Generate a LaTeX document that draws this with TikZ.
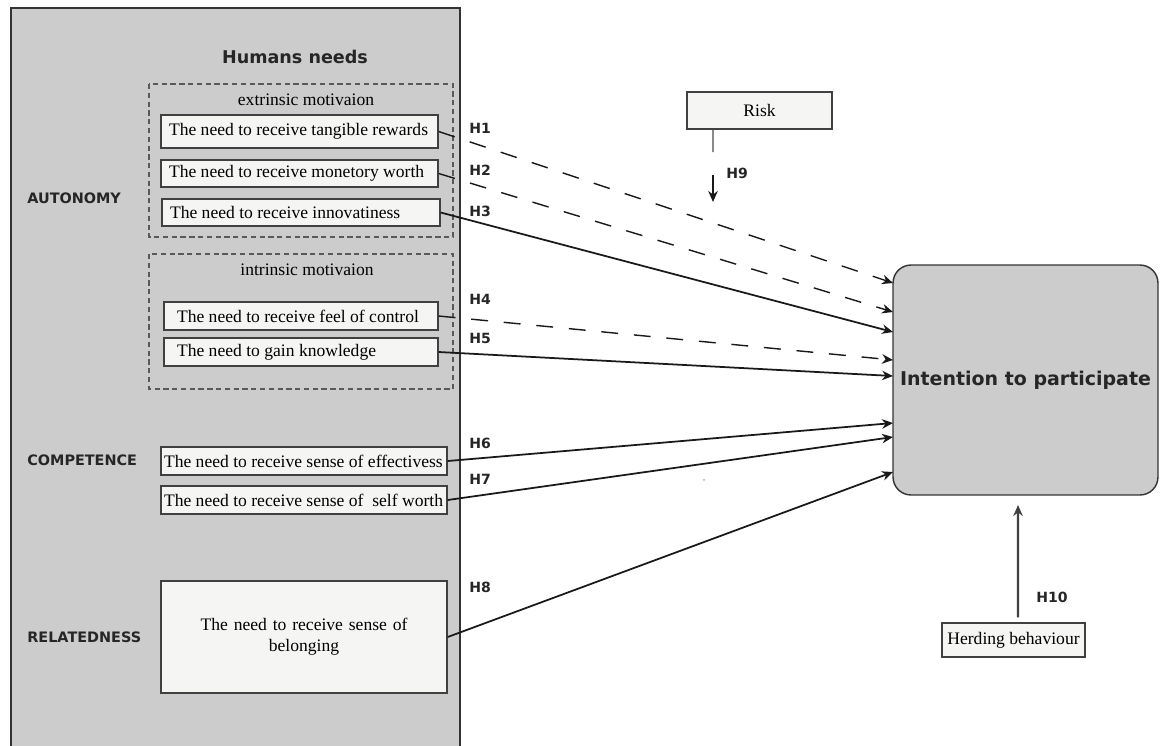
\documentclass[tikz,border=0pt]{standalone}
\usepackage{fontspec}
\setmainfont{Liberation Serif}
\setsansfont{DejaVu Sans}
\usetikzlibrary{arrows.meta}
\definecolor{panelgray}{RGB}{204,204,204}
\definecolor{boxwhite}{RGB}{245,245,243}
\newcommand{\lefttext}[2]{\makebox[#1][l]{#2}}
\tikzset{
  needbox/.style={draw=black!75, fill=boxwhite, line width=0.8pt, inner xsep=0.1cm, inner ysep=0pt, font=\fontsize{10}{12}\selectfont},
  grouplbl/.style={anchor=west, inner sep=0pt, font=\sffamily\bfseries\fontsize{8.2}{10}\selectfont, text=black!85},
  hyplbl/.style={anchor=west, inner sep=0pt, font=\sffamily\bfseries\fontsize{8}{10}\selectfont, text=black!85},
  link/.style={line width=1pt, black!90, -{Stealth[length=2.2mm,width=1.9mm]}},
  dlink/.style={link, line width=0.8pt, dash pattern=on 9.6pt off 9pt},
}
\begin{document}
\begin{tikzpicture}[x=0.02cm, y=-0.02cm]
\useasboundingbox (0,0) rectangle (1165,745);
\clip (0,0) rectangle (1165,745);
\draw[fill=panelgray, draw=black!80, line width=0.8pt] (11,8) rectangle (460,760);
\draw[densely dashed, black!65, line width=0.8pt] (149,84) rectangle (453,237);
\draw[densely dashed, black!65, line width=0.8pt] (149,254) rectangle (453,389);

\node[font=\sffamily\bfseries\fontsize{10}{12}\selectfont, text=black!85] (title) at (295,57) {Humans needs};
\node[font=\fontsize{10}{12}\selectfont] (extr) at (306,100) {extrinsic motivaion};
\node[font=\fontsize{10}{12}\selectfont] (intr) at (307,270) {intrinsic motivaion};
\node[grouplbl] (auto) at (27,198) {AUTONOMY};
\node[grouplbl] (comp) at (27,460) {COMPETENCE};
\node[grouplbl] (rela) at (27,637) {RELATEDNESS};

\node[needbox, inner xsep=0.16cm, minimum height=0.66cm] (tang) at (299.5,131.5) {\lefttext{5.22cm}{The need to receive tangible rewards}};
\node[needbox, inner xsep=0.16cm, minimum height=0.54cm] (mone) at (299.5,173.5) {\lefttext{5.22cm}{The need to receive monetory worth}};
\node[needbox, inner xsep=0.16cm, minimum height=0.54cm] (inno) at (301,212.5) {\lefttext{5.24cm}{The need to receive innovatiness}};
\node[needbox, inner xsep=0.26cm, minimum height=0.56cm] (ctrl) at (301,316) {\lefttext{4.96cm}{The need to receive feel of control}};
\node[needbox, inner xsep=0.26cm, minimum height=0.56cm] (know) at (301,352) {\lefttext{4.96cm}{The need to gain knowledge}};
\node[needbox, inner xsep=0.06cm, minimum height=0.56cm] (effe) at (304,461) {\lefttext{5.60cm}{The need to receive sense of effectivess}};
\node[needbox, inner xsep=0.06cm, minimum height=0.56cm] (self) at (304,500) {\lefttext{5.60cm}{The need to receive sense of\ \ self worth}};
\node[needbox, text width=5.52cm, minimum height=2.24cm, align=center] (belo) at (304,637) {The need to receive sense of\\belonging};

\node[draw=black!75, fill=boxwhite, line width=0.8pt, minimum width=2.9cm, minimum height=0.74cm, inner sep=0pt, font=\fontsize{10}{12}\selectfont] (risk) at (759.5,110.5) {Risk};
\node[draw=black!75, fill=boxwhite, line width=0.8pt, minimum width=2.86cm, minimum height=0.68cm, inner sep=0pt, font=\fontsize{10}{12}\selectfont] (herd) at (1013.5,640) {Herding behaviour};
\node[draw=black!80, fill=panelgray, line width=0.8pt, rounded corners=0.36cm, minimum width=5.3cm, minimum height=4.6cm, inner sep=0pt, font=\sffamily\bfseries\fontsize{10.8}{13}\selectfont, text=black!85] (intent) at (1025.5,380) {Intention to participate};

\coordinate (t1) at (893,283);
\coordinate (t2) at (893,312);
\coordinate (t3) at (893,332);
\coordinate (t4) at (893,360);
\coordinate (t5) at (893,376);
\coordinate (t6) at (893,423);
\coordinate (t7) at (893,437);
\coordinate (t8) at (893,472);
\coordinate (h9top) at (713,152);
\coordinate (h9a) at (713,175);
\coordinate (h9b) at (713,202);
\coordinate (h10tip) at (1018,505);

\draw[dlink] (tang.east) -- (t1);
\draw[dlink] (mone.east) -- (t2);
\draw[link] (inno.east) -- (t3);
\draw[dlink] (ctrl.east) -- (t4);
\draw[link] (know.east) -- (t5);
\draw[link] (effe.east) -- (t6);
\draw[link] (self.east) -- (t7);
\draw[link] (belo.east) -- (t8);
\draw[line width=0.8pt, black!70] ([xshift=-0.93cm]risk.south) -- (h9top);
\draw[link, line width=0.8pt] (h9a) -- (h9b);
\draw[link, black!75, line width=1.2pt, shorten <=0.1cm] ([xshift=0.09cm]herd.north) -- (h10tip);

\node[hyplbl] (l1) at (469,128) {H1};
\node[hyplbl] (l2) at (469,170) {H2};
\node[hyplbl] (l3) at (469,211) {H3};
\node[hyplbl] (l4) at (469,299) {H4};
\node[hyplbl] (l5) at (469,338) {H5};
\node[hyplbl] (l6) at (469,443) {H6};
\node[hyplbl] (l7) at (469,479) {H7};
\node[hyplbl] (l8) at (469,587) {H8};
\node[hyplbl] (l9) at (726,173) {H9};
\node[hyplbl] (l10) at (1036,597) {H10};
\node[font=\tiny, text=black!60] (mark) at (704,481) {-};
\end{tikzpicture}
\end{document}
